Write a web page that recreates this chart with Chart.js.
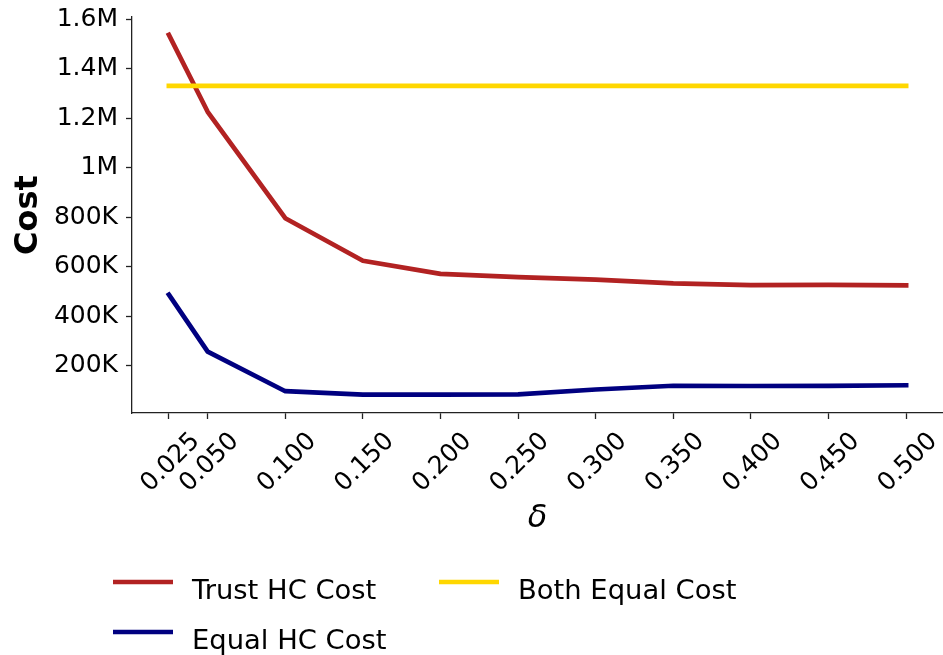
<!DOCTYPE html>
<html>
<head>
<meta charset="utf-8">
<script src="https://cdn.jsdelivr.net/npm/chart.js@4.4.1/dist/chart.umd.min.js"></script>
<style>
  html, body { margin: 0; padding: 0; background: #fff; }
  canvas { display: block; }
</style>
</head>
<body>
<canvas id="chart" width="943" height="655"></canvas>
<script>
// δ values on the x axis
const deltas = [0.025, 0.05, 0.1, 0.15, 0.2, 0.25, 0.3, 0.35, 0.4, 0.45, 0.5];
const xTickLabels = ['0.025', '0.050', '0.100', '0.150', '0.200', '0.250', '0.300', '0.350', '0.400', '0.450', '0.500'];

// Cost series
const trustHCCost = [1538000, 1227000, 797000, 625000, 572000, 559000, 549000, 534000, 527000, 528000, 526000];
const equalHCCost = [488000, 258000, 98000, 84000, 84000, 85500, 105000, 120000, 119000, 119500, 122000];
const bothEqualCost = [1332000, 1332000, 1332000, 1332000, 1332000, 1332000, 1332000, 1332000, 1332000, 1332000, 1332000];

const seriesNames = ['Trust HC Cost', 'Equal HC Cost', 'Both Equal Cost'];

// y axis ticks
const yTickValues = [200000, 400000, 600000, 800000, 1000000, 1200000, 1400000, 1600000];
const yTickLabels = ['200K', '400K', '600K', '800K', '1M', '1.2M', '1.4M', '1.6M'];

const FONT = "'DejaVu Sans', sans-serif";
const TICK_SIZE = 25;
const LEGEND_SIZE = 27.4;
const AXIS_COLOR = '#222';

const toPoints = (vals) => vals.map((v, i) => ({ x: deltas[i], y: v }));

// Rotated x tick labels, centred under each tick
const xTickLabelPlugin = {
  id: 'xTickLabels',
  afterDraw(chart) {
    const xs = chart.scales.x;
    const ctx = chart.ctx;
    ctx.save();
    ctx.font = TICK_SIZE + 'px ' + FONT;
    ctx.fillStyle = '#000';
    ctx.textAlign = 'center';
    ctx.textBaseline = 'alphabetic';
    const capH = 0.729 * TICK_SIZE;
    xs.ticks.forEach((t, i) => {
      const label = xTickLabels[i];
      const px = xs.getPixelForValue(t.value);
      const w = ctx.measureText(label).width;
      const h = (w + capH) * Math.SQRT1_2;
      const cy = xs.top + 16 + h / 2;
      ctx.save();
      ctx.translate(px, cy);
      ctx.rotate(-Math.PI / 4);
      ctx.fillText(label, 0, capH / 2);
      ctx.restore();
    });
    ctx.restore();
  }
};

// Two-column legend below the axes
const legendPlugin = {
  id: 'twoColLegend',
  afterDraw(chart) {
    const ctx = chart.ctx;
    const cols = [113, 439];
    const rows = [582, 632];
    const layout = [
      { ds: 0, col: 0, row: 0 },
      { ds: 1, col: 0, row: 1 },
      { ds: 2, col: 1, row: 0 }
    ];
    ctx.save();
    ctx.font = LEGEND_SIZE + 'px ' + FONT;
    ctx.textAlign = 'left';
    ctx.textBaseline = 'alphabetic';
    layout.forEach(item => {
      const ds = chart.data.datasets[item.ds];
      const x = cols[item.col];
      const y = rows[item.row];
      ctx.strokeStyle = ds.borderColor;
      ctx.lineWidth = ds.borderWidth;
      ctx.lineCap = 'butt';
      ctx.beginPath();
      ctx.moveTo(x, y);
      ctx.lineTo(x + 60, y);
      ctx.stroke();
      ctx.fillStyle = '#000';
      ctx.fillText(ds.label, x + 79, y + 17);
    });
    ctx.restore();
  }
};

new Chart(document.getElementById('chart'), {
  type: 'line',
  data: {
    datasets: [
      {
        label: seriesNames[0],
        data: toPoints(trustHCCost),
        borderColor: '#b22222',
        borderWidth: 4.7,
        order: 2
      },
      {
        label: seriesNames[1],
        data: toPoints(equalHCCost),
        borderColor: '#000080',
        borderWidth: 4.7,
        order: 1
      },
      {
        label: seriesNames[2],
        data: toPoints(bothEqualCost),
        borderColor: '#ffd700',
        borderWidth: 4.7,
        order: 0
      }
    ]
  },
  options: {
    responsive: false,
    animation: false,
    events: [],
    datasets: {
      line: {
        pointRadius: 0,
        tension: 0,
        fill: false,
        borderCapStyle: 'square',
        borderJoinStyle: 'round'
      }
    },
    layout: { padding: { top: 17, right: 0, bottom: 117, left: 0 } },
    plugins: {
      legend: { display: false },
      tooltip: { enabled: false }
    },
    scales: {
      x: {
        type: 'linear',
        min: 0.00125,
        max: 0.52375,
        afterBuildTicks(scale) {
          scale.ticks = deltas.map(v => ({ value: v }));
        },
        afterFit(scale) {
          scale.height = 125;
          scale.paddingLeft = 0;
          scale.paddingRight = 0;
        },
        ticks: { display: false },
        grid: {
          display: true,
          drawOnChartArea: false,
          drawTicks: true,
          tickLength: 6,
          tickColor: AXIS_COLOR,
          tickWidth: 1.3
        },
        border: { display: true, color: AXIS_COLOR, width: 1.3 },
        title: {
          display: true,
          text: 'δ',
          color: '#000',
          font: { family: FONT, size: 32, style: 'italic' },
          padding: { top: 0, bottom: 0 }
        }
      },
      y: {
        type: 'linear',
        min: 10000,
        max: 1610000,
        afterBuildTicks(scale) {
          scale.ticks = yTickValues.map(v => ({ value: v }));
        },
        afterFit(scale) {
          scale.width = 132;
          scale.paddingTop = 0;
          scale.paddingBottom = 0;
        },
        ticks: {
          color: '#000',
          padding: 8,
          font: { family: FONT, size: TICK_SIZE },
          callback(value) {
            const i = yTickValues.indexOf(value);
            return i >= 0 ? yTickLabels[i] : '';
          }
        },
        grid: {
          display: true,
          drawOnChartArea: false,
          drawTicks: true,
          tickLength: 6,
          tickColor: AXIS_COLOR,
          tickWidth: 1.3
        },
        border: { display: true, color: AXIS_COLOR, width: 1.3 },
        title: {
          display: true,
          text: 'Cost',
          color: '#000',
          font: { family: FONT, size: 32, weight: 'bold' },
          padding: { top: 9, bottom: 0 }
        }
      }
    }
  },
  plugins: [xTickLabelPlugin, legendPlugin]
});
</script>
</body>
</html>
